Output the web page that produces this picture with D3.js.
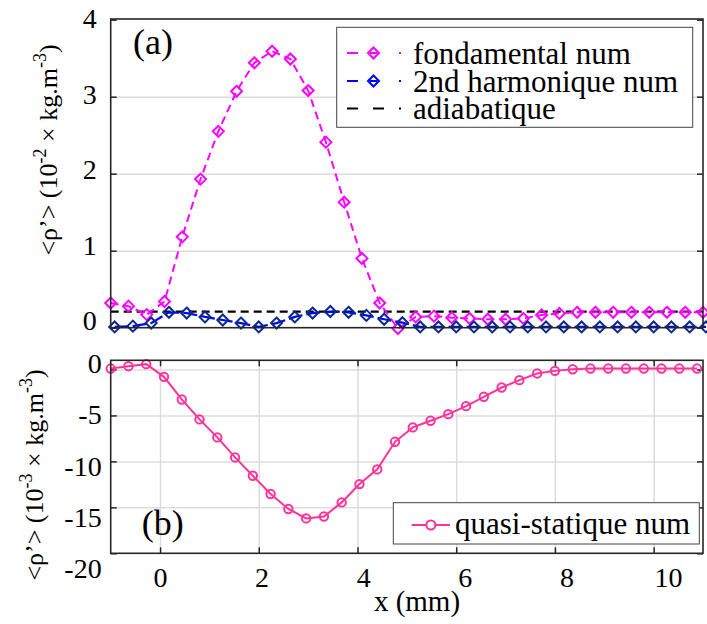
<!DOCTYPE html>
<html>
<head>
<meta charset="utf-8">
<script src="https://cdn.jsdelivr.net/npm/d3@7"></script>
<style>
  @font-face { font-family: "FigSerif"; src: local("Liberation Serif"), local("LiberationSerif"), local("Liberation Serif Regular"), local("LiberationSerif-Regular"); }
</style>
</head>
<body style="margin:0; background:#fff">
<div id="figure"></div>
<script>
// panel (a)
const xFond = [-1, -0.64, -0.27, 0.09, 0.45, 0.82, 1.18, 1.55, 1.91, 2.27, 2.64, 3.0, 3.36, 3.73, 4.09, 4.45, 4.82,
  5.18, 5.55, 5.91, 6.27, 6.64, 7.0, 7.36, 7.73, 8.09, 8.45, 8.82, 9.18, 9.55, 9.91, 10.27, 10.64, 11.0]
const fond = [0.32, 0.28, 0.17, 0.34, 1.18, 1.93, 2.55, 3.07, 3.44, 3.59, 3.49, 3.08, 2.41, 1.63, 0.9, 0.32, -0.01,
  0.14, 0.15, 0.13, 0.12, 0.11, 0.11, 0.12, 0.165, 0.186, 0.2, 0.2, 0.2, 0.2, 0.2, 0.2, 0.2, 0.2]
const xHarm = [-0.92, -0.55, -0.18, 0.18, 0.54, 0.91, 1.27, 1.64, 2.0, 2.36, 2.73, 3.09, 3.45, 3.82, 4.18, 4.54, 4.91,
  5.27, 5.64, 6.0, 6.36, 6.73, 7.09, 7.45, 7.82, 8.18, 8.54, 8.91, 9.27, 9.64, 10.0, 10.36, 10.73, 11.06]
const harm = [0.01, 0.02, 0.06, 0.2, 0.19, 0.14, 0.1, 0.06, 0.01, 0.06, 0.14, 0.19, 0.21, 0.2, 0.16, 0.11, 0.065,
  0.01, 0.01, 0.01, 0.01, 0.01, 0.01, 0.01, 0.01, 0.01, 0.01, 0.01, 0.01, 0.01, 0.01, 0.01, 0.01, 0.01]
const xAdia = [-1, 11]
const adia = [0.21, 0.21]

// panel (b)
const xQuasi = [-1, -0.64, -0.28, 0.08, 0.44, 0.8, 1.16, 1.52, 1.88, 2.24, 2.6, 2.96, 3.32, 3.68, 4.04, 4.4, 4.76,
  5.12, 5.48, 5.84, 6.2, 6.56, 6.92, 7.28, 7.64, 8.0, 8.36, 8.72, 9.08, 9.44, 9.8, 10.16, 10.52, 10.88]
const quasi = [0.1, 0.36, 0.58, -0.8, -3.26, -5.43, -7.39, -9.57, -11.56, -13.55, -15.18, -16.2, -16.0, -14.46,
  -12.47, -10.87, -7.87, -6.3, -5.58, -4.86, -3.99, -2.97, -1.96, -1.16, -0.43, -0.15, 0.03, 0.1, 0.1, 0.1, 0.1, 0.1, 0.1, 0.1]

const xTicks = [0, 2, 4, 6, 8, 10]
const yTicksTop = [0, 1, 2, 3, 4]
const yTicksBot = [-20, -15, -10, -5, 0]
const legendTop = ["fondamental num", "2nd harmonique num", "adiabatique"]
const legendBot = ["quasi-statique num"]

const PINK = "#ff00ff", BLUE = "#0000ff", NAVY = "#0a2a8c", ROSE = "#ff3399", AXIS = "#262626", GRID = "#dcdcdc"
const SERIF = "Liberation Serif, FigSerif, Tinos, serif"

const svg = d3.select("#figure").append("svg")
  .attr("width", 707).attr("height", 624)
  .style("display", "block")
svg.append("rect").attr("width", 707).attr("height", 624).attr("fill", "#fff")

const x = d3.scaleLinear().domain([-1, 11]).range([110.7, 703])
const yTop = d3.scaleLinear().domain([0, 4]).range([327.7, 19.7])
const yBot = d3.scaleLinear().domain([-20, 1]).range([553.3, 360.3])

// tick labels in the figure sit on a slightly different spacing than the ticks
const xLab = d3.scaleLinear().domain([0, 10]).range([160, 668])
const yTopLab = d3.scaleLinear().domain([0, 4]).range([320, 18.3])
const yBotLab = d3.scaleLinear().domain([-20, 0]).range([568, 363])

function diamond(r){
  return "M0," + (-r) + "L" + r + ",0L0," + r + "L" + (-r) + ",0Z"
}

function addText(parent, str, size){
  return parent.append("text").style("font-family", SERIF).style("font-size", size + "px").text(str)
}

function styleAxis(g){
  g.attr("font-family", null).attr("font-size", null)
  g.select(".domain").remove()
  g.selectAll(".tick line").attr("stroke", AXIS).attr("stroke-width", 1.5)
  g.selectAll(".tick text").style("font-family", SERIF).style("font-size", "28px").attr("fill", "#000")
}

/* ---------- panel (a) ---------- */
const x0 = x.range()[0], x1 = x.range()[1]
const top0 = yTop.range()[1] - 0.7, top1 = yTop.range()[0]

svg.append("g")
  .attr("transform", "translate(" + x0 + ",0)")
  .call(d3.axisLeft(yTop).tickValues([1, 2, 3]).tickSize(-(x1 - x0)).tickFormat(""))
  .call(g => g.select(".domain").remove())
  .call(g => g.selectAll("line").attr("stroke", GRID).attr("stroke-width", 1.5))

svg.append("g")
  .attr("transform", "translate(" + x0 + ",0)")
  .call(d3.axisLeft(yTop).tickValues(yTicksTop).tickSize(-6).tickPadding(14).tickFormat(d3.format("d")))
  .call(styleAxis)
  .call(g => g.selectAll(".tick text").attr("y", d => yTopLab(d) - yTop(d)).attr("dy", "0.34em"))

svg.append("g")
  .attr("transform", "translate(" + x1 + ",0)")
  .call(d3.axisRight(yTop).tickValues(yTicksTop).tickSize(-6).tickFormat(""))
  .call(styleAxis)

let lineTop = d3.line().x(d => x(d[0])).y(d => yTop(d[1]))

svg.append("path")
  .attr("d", lineTop(d3.zip(xAdia, adia)))
  .attr("fill", "none").attr("stroke", "#000").attr("stroke-width", 2.2).attr("stroke-dasharray", "8,5")

svg.append("path")
  .attr("d", lineTop(d3.zip(xFond, fond)))
  .attr("fill", "none").attr("stroke", PINK).attr("stroke-width", 2).attr("stroke-dasharray", "8,5")
svg.append("g").selectAll("path").data(d3.zip(xFond, fond)).enter()
  .append("path")
  .attr("transform", d => "translate(" + x(d[0]) + "," + yTop(d[1]) + ")")
  .attr("d", diamond(5.5))
  .attr("fill", "none").attr("stroke", PINK).attr("stroke-width", 2)

svg.append("path")
  .attr("d", lineTop(d3.zip(xHarm, harm)))
  .attr("fill", "none").attr("stroke", BLUE).attr("stroke-width", 2.2).attr("stroke-dasharray", "14,4")
svg.append("g").selectAll("path").data(d3.zip(xHarm, harm)).enter()
  .append("path")
  .attr("transform", d => "translate(" + x(d[0]) + "," + yTop(d[1]) + ")")
  .attr("d", diamond(5.5))
  .attr("fill", "none").attr("stroke", NAVY).attr("stroke-width", 2)

svg.append("rect")
  .attr("x", x0).attr("y", top0).attr("width", x1 - x0).attr("height", top1 - top0)
  .attr("fill", "none").attr("stroke", AXIS).attr("stroke-width", 1.6)

addText(svg, "(a)", 36).attr("x", 133).attr("y", 53.5)

// legend (a)
let legA = svg.append("g")
legA.append("rect")
  .attr("x", 336.7).attr("y", 27.3).attr("width", 356).attr("height", 100)
  .attr("fill", "#fff").attr("stroke", "#444").attr("stroke-width", 1)
const legRows = [53, 81, 108.5]
const legStyles = [
  {stroke: PINK, dash: "11,12,7,22,2", marker: PINK},
  {stroke: BLUE, dash: "11,12,7,22,2", marker: BLUE},
  {stroke: "#000", dash: "11,15", marker: null}
]
legendTop.forEach((name, i) => {
  let yy = legRows[i]
  legA.append("line")
    .attr("x1", 347).attr("x2", 401).attr("y1", yy).attr("y2", yy)
    .attr("stroke", legStyles[i].stroke).attr("stroke-width", 2.2).attr("stroke-dasharray", legStyles[i].dash)
  if(legStyles[i].marker){
    legA.append("path")
      .attr("transform", "translate(373.5," + yy + ")")
      .attr("d", diamond(5.5))
      .attr("fill", "none").attr("stroke", legStyles[i].marker).attr("stroke-width", 2)
  }
  addText(legA, name, 31).attr("x", 413).attr("y", yy + 10.5)
})

/* ---------- panel (b) ---------- */
const b0 = yBot.range()[1], b1 = yBot.range()[0]

svg.append("g")
  .attr("transform", "translate(" + x0 + ",0)")
  .call(d3.axisLeft(yBot).tickValues([-15, -10, -5, 0]).tickSize(-(x1 - x0)).tickFormat(""))
  .call(g => g.select(".domain").remove())
  .call(g => g.selectAll("line").attr("stroke", GRID).attr("stroke-width", 1.5))
svg.append("g")
  .attr("transform", "translate(0," + b1 + ")")
  .call(d3.axisBottom(x).tickValues(xTicks).tickSize(-(b1 - b0)).tickFormat(""))
  .call(g => g.select(".domain").remove())
  .call(g => g.selectAll("line").attr("stroke", GRID).attr("stroke-width", 1.5))

svg.append("g")
  .attr("transform", "translate(" + x0 + ",0)")
  .call(d3.axisLeft(yBot).tickValues(yTicksBot).tickSize(-6).tickPadding(9).tickFormat(d => String(d)))
  .call(styleAxis)
  .call(g => g.selectAll(".tick text").attr("y", d => yBotLab(d) - yBot(d)).attr("dy", "0.34em"))

svg.append("g")
  .attr("transform", "translate(" + x1 + ",0)")
  .call(d3.axisRight(yBot).tickValues(yTicksBot).tickSize(-6).tickFormat(""))
  .call(styleAxis)

svg.append("g")
  .attr("transform", "translate(0," + b1 + ")")
  .call(d3.axisBottom(x).tickValues(xTicks).tickSize(-6).tickFormat(d3.format("d")))
  .call(styleAxis)
  .call(g => g.selectAll(".tick text").attr("x", d => xLab(d) - x(d)).attr("y", 33.7).attr("dy", 0))

svg.append("g")
  .attr("transform", "translate(0," + b0 + ")")
  .call(d3.axisTop(x).tickValues(xTicks).tickSize(-6).tickFormat(""))
  .call(styleAxis)

let lineBot = d3.line().x(d => x(d[0])).y(d => yBot(d[1]))
svg.append("path")
  .attr("d", lineBot(d3.zip(xQuasi, quasi)))
  .attr("fill", "none").attr("stroke", ROSE).attr("stroke-width", 2)
svg.append("g").selectAll("circle").data(d3.zip(xQuasi, quasi)).enter()
  .append("circle")
  .attr("cx", d => x(d[0])).attr("cy", d => yBot(d[1])).attr("r", 4.2)
  .attr("fill", "none").attr("stroke", ROSE).attr("stroke-width", 2)

svg.append("rect")
  .attr("x", x0).attr("y", b0).attr("width", x1 - x0).attr("height", b1 - b0)
  .attr("fill", "none").attr("stroke", AXIS).attr("stroke-width", 1.6)

addText(svg, "(b)", 36).attr("x", 141.7).attr("y", 535)

// legend (b)
let legB = svg.append("g")
legB.append("rect")
  .attr("x", 393.3).attr("y", 502.7).attr("width", 306).attr("height", 41.3)
  .attr("fill", "#fff").attr("stroke", "#444").attr("stroke-width", 1)
legB.append("line")
  .attr("x1", 411.7).attr("x2", 450).attr("y1", 525).attr("y2", 525)
  .attr("stroke", ROSE).attr("stroke-width", 2.2)
legB.append("circle")
  .attr("cx", 430.8).attr("cy", 525).attr("r", 4.5)
  .attr("fill", "#fff").attr("stroke", ROSE).attr("stroke-width", 2)
addText(legB, legendBot[0], 31).attr("x", 455).attr("y", 534)

/* ---------- axis titles ---------- */
addText(svg, "x (mm)", 29).attr("x", 417).attr("y", 611).attr("text-anchor", "middle")

function yTitle(cx, cy, exp){
  let t = addText(svg, null, 26)
    .attr("transform", "translate(" + cx + "," + cy + ") rotate(-90)")
    .attr("text-anchor", "middle")
  t.append("tspan").text("<\u03c1\u2019> (10")
  t.append("tspan").attr("dy", -11).style("font-size", "18px").text(exp)
  t.append("tspan").attr("dy", 11).text(" \u00d7 kg.m")
  t.append("tspan").attr("dy", -11).style("font-size", "18px").text("-3")
  t.append("tspan").attr("dy", 11).text(")")
}
yTitle(57, 150, "-2")
yTitle(43, 475, "-3")
</script>
</body>
</html>
